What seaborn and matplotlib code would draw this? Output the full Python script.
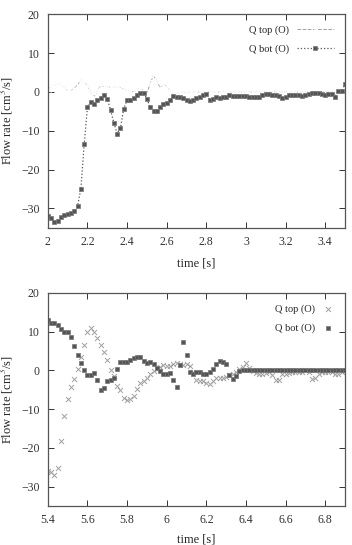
import matplotlib
matplotlib.use("Agg")
import matplotlib.pyplot as plt
import matplotlib.ticker as mticker
import numpy as np
import pandas as pd
import seaborn as sns

# sampling at 60 Hz
dt = 1.0 / 60.0

# upper panel, t = 2.0 .. 3.5
q_top_1 = [0.8, 1.2, 1.7, 2.1, 1.6, 1.0, 0.5, 0.3, 0.8, 1.8,
           3.2, 2.8, 1.6, 0.0, -1.2, 0.2, 1.5, 1.4, 1.3, 1.3,
           1.3, 1.2, 1.1, 0.8, 0.4, 0.2, 0.1, 0.4, 0.9, 0.5,
           -0.3, 2.2, 4.3, 2.8, 1.0, 1.8, 1.6, 0.2, -0.5, -0.3,
           -0.2, -0.1, -0.1, 0.0, 0.0, 0.0, 0.0, 0.0, 0.0, 0.0,
           0.0, 0.0, 0.0, 0.0, 0.0, 0.0, 0.0, 0.0, 0.0, 0.0,
           0.0, 0.0, 0.0, 0.0, 0.0, 0.0, 0.0, 0.0, 0.0, 0.0,
           0.0, 0.0, 0.0, 0.0, 0.0, 0.0, 0.0, 0.0, 0.0, 0.0,
           0.0, 0.0, 0.0, 0.0, 0.0, 0.0, 0.0, 0.0, 0.0, 0.0, 0.0]
q_bot_1 = [-32.0, -32.5, -33.5, -33.2, -32.2, -31.7, -31.4, -31.2, -30.7, -29.3,
           -25.0, -13.5, -3.8, -2.5, -3.2, -2.2, -1.5, -0.8, -1.8, -4.7,
           -8.0, -10.8, -9.2, -4.3, -2.2, -2.2, -1.5, -0.8, -0.2, -0.2,
           -1.8, -4.0, -4.8, -4.8, -3.8, -3.0, -2.8, -2.2, -1.0, -1.2,
           -1.3, -1.7, -2.2, -2.3, -2.0, -1.6, -1.2, -0.9, -0.6, -2.0,
           -1.8, -1.4, -1.5, -1.4, -1.2, -0.9, -1.0, -1.0, -1.1, -1.1,
           -1.1, -1.2, -1.2, -1.2, -1.2, -0.8, -0.6, -0.6, -0.7, -0.8,
           -1.0, -1.5, -1.3, -0.8, -0.8, -0.9, -0.9, -1.0, -0.9, -0.6,
           -0.2, -0.2, -0.3, -0.6, -0.8, -0.6, -0.5, -1.2, 0.2, 0.2, 2.0]

# lower panel, t = 5.4 .. 6.9
q_top_2 = [-26.0, -26.3, -27.0, -25.3, -18.3, -11.8, -7.5, -4.4, -2.2, 0.3,
           3.4, 6.6, 10.0, 11.0, 10.0, 8.4, 6.6, 4.7, 2.7, 0.0,
           -1.5, -4.1, -5.0, -7.1, -7.7, -7.5, -6.5, -4.8, -3.3, -2.8,
           -2.0, -1.0, -0.2, 0.3, 1.0, 1.3, 1.2, 1.2, 1.6, 2.0,
           1.6, 1.5, 1.6, 1.2, -0.3, -2.5, -2.6, -2.6, -3.3, -3.4,
           -2.7, -2.0, -2.0, -1.9, -1.6, -1.3, -0.8, -0.3, 0.5, 0.9,
           1.8, 0.6, -0.2, -0.6, -1.0, -1.0, -0.6, -0.4, -1.3, -2.4,
           -2.5, -1.0, -0.8, -0.6, -0.5, -0.5, -0.4, -0.3, 0.0, -0.4,
           -2.3, -2.0, -1.0, -0.4, -0.3, -0.5, -0.4, -0.8, -1.0, -0.5, -0.2]
q_bot_2 = [13.0, 12.3, 12.2, 11.8, 10.8, 10.0, 9.8, 8.7, 6.3, 4.0,
           1.8, 0.0, -1.2, -1.3, -0.6, -2.5, -5.0, -4.6, -2.8, -2.5,
           -2.0, 0.3, 2.3, 2.3, 2.3, 2.8, 3.3, 3.6, 3.5, 2.5,
           2.0, 2.1, 1.6, 0.6, -0.2, -0.8, -0.8, -0.6, -2.5, -4.3,
           1.3, 7.3, 4.0, -0.5, -0.8, -0.3, -0.5, -0.8, -0.8, -0.3,
           0.3, 1.6, 2.4, 2.3, 1.7, -1.2, -2.1, -1.5, -0.1, 0.0,
           0.0, 0.0, 0.0, 0.0, 0.0, 0.0, 0.0, 0.0, 0.0, 0.0,
           0.0, 0.0, 0.0, 0.0, 0.0, 0.0, 0.0, 0.0, 0.0, 0.0,
           0.0, 0.0, 0.0, 0.0, 0.0, 0.0, 0.0, 0.0, 0.0, 0.0, 0.0]

t1 = 2.0 + np.arange(len(q_top_1)) * dt
t2 = 5.4 + np.arange(len(q_top_2)) * dt

sns.set_style("ticks")
plt.rcParams["font.family"] = ["Liberation Serif", "DejaVu Serif"]
plt.rcParams["mathtext.fontset"] = "stix"

light = "#a0a0a0"
dark = "#555555"

fig = plt.figure(figsize=(3.52, 5.45), dpi=100)
ax1 = fig.add_axes([0.136, 0.582, 0.844, 0.392])
ax2 = fig.add_axes([0.136, 0.0716, 0.844, 0.3908])

sns.lineplot(x=t1, y=q_top_1, ax=ax1, color=light, linestyle="--", linewidth=0.7,
             marker="x", markersize=4, markeredgewidth=0.8, label="Q top (O)")
sns.lineplot(x=t1, y=q_bot_1, ax=ax1, color=dark, linestyle=":", linewidth=0.9,
             marker="s", markersize=2.6, markeredgecolor="#777777", markeredgewidth=0.5,
             label="Q bot (O)")
ax1.set_xlim(2.0, 3.5)
ax1.set_xticks(np.arange(2.0, 3.41, 0.2))

sns.scatterplot(x=t2, y=q_top_2, ax=ax2, color=light, marker="x", s=13,
                linewidth=0.7, label="Q top (O)")
sns.scatterplot(x=t2, y=q_bot_2, ax=ax2, color=dark, marker="s", s=8,
                edgecolor="#777777", linewidth=0.5, label="Q bot (O)")
ax2.set_xlim(5.4, 6.9)
ax2.set_xticks(np.arange(5.4, 6.81, 0.2))

for ax, hl, lp in ((ax1, 3.5, 7), (ax2, 1.0, 5)):
    ax.set_ylim(-35, 20)
    ax.set_yticks([-30, -20, -10, 0, 10, 20])
    ax.xaxis.set_major_formatter(mticker.FuncFormatter(lambda v, p: "%g" % round(v, 2)))
    ax.tick_params(direction="in", top=True, right=True, length=4, width=0.7,
                   labelsize=8.5, colors="#333333", pad=6)
    for s in ax.spines.values():
        s.set_color("#555555")
        s.set_linewidth(0.9)
    ax.set_xlabel("time [s]", fontsize=9, labelpad=lp)
    ax.set_ylabel("Flow rate [cm$^3$/s]", fontsize=9, labelpad=4)
    ax.legend(loc="upper right", frameon=False, fontsize=7.5, markerfirst=False,
              handlelength=hl, labelspacing=0.85, borderaxespad=0.7)

fig.savefig("out.png", dpi=100)
